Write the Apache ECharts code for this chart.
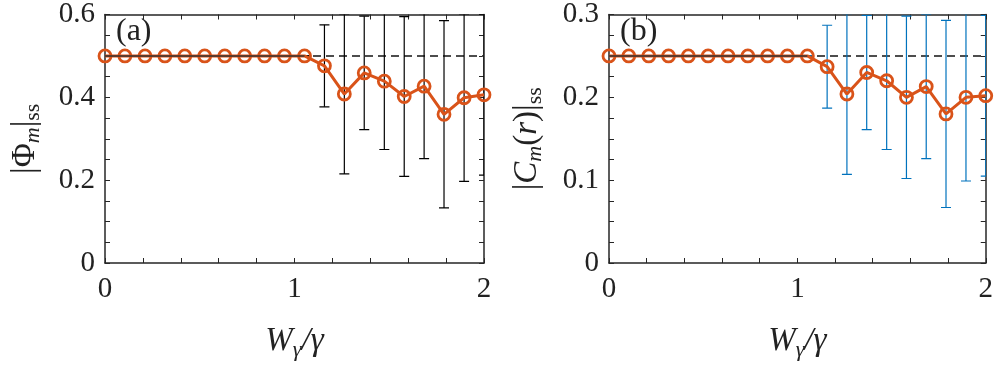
<!DOCTYPE html>
<html>
<head>
<meta charset="utf-8">
<script src="https://cdn.jsdelivr.net/npm/echarts@6/dist/echarts.min.js"></script>
<style>
  html, body { margin: 0; padding: 0; background: #fff; }
  #main { width: 996px; height: 366px; }
</style>
</head>
<body>
<div id="main"></div>
<script>
// W_gamma / gamma
var xs = [0, 0.105, 0.211, 0.316, 0.421, 0.526, 0.632, 0.737, 0.842, 0.947,
  1.053, 1.158, 1.263, 1.368, 1.474, 1.579, 1.684, 1.789, 1.895, 2];
// panel (a) |Phi_m|_ss and std
var phi = [0.5, 0.5, 0.5, 0.5, 0.5, 0.5, 0.5, 0.5, 0.5, 0.5, 0.5,
  0.476, 0.408, 0.459, 0.439, 0.402, 0.427, 0.359, 0.399, 0.406];
var phiErr = [0, 0, 0, 0, 0, 0, 0, 0, 0, 0, 0,
  0.099, 0.193, 0.137, 0.165, 0.193, 0.175, 0.226, 0.202, 0.194];
// panel (b) |C_m(r)|_ss and std
var cm = [0.25, 0.25, 0.25, 0.25, 0.25, 0.25, 0.25, 0.25, 0.25, 0.25, 0.25,
  0.237, 0.204, 0.230, 0.220, 0.200, 0.213, 0.180, 0.200, 0.202];
var cmErr = [0, 0, 0, 0, 0, 0, 0, 0, 0, 0, 0,
  0.050, 0.097, 0.069, 0.083, 0.098, 0.087, 0.113, 0.101, 0.097];
// reference levels (dashed)
var refX = [0, 2];
var phiRef = [0.5, 0.5];
var cmRef = [0.25, 0.25];
var nFlat = 11; // points sitting on the reference value

var serif = "'Liberation Serif', 'DejaVu Serif', serif";
var axisColor = '#262626';
var orange = '#D95319';

function pairs(x, y) {
  return x.map(function (v, i) { return [v, y[i]]; });
}

function errData(y, e) {
  return xs.map(function (v, i) { return [v, y[i] - e[i], y[i] + e[i]]; });
}

function errSeries(idx, y, e, color) {
  return {
    type: 'custom',
    xAxisIndex: idx * 2, yAxisIndex: idx * 2,
    clip: true,
    z: 3,
    data: errData(y, e),
    renderItem: function (params, api) {
      var lo = api.coord([api.value(0), api.value(1)]);
      var hi = api.coord([api.value(0), api.value(2)]);
      var w = 5;
      var st = { stroke: color, lineWidth: 1.2 };
      return {
        type: 'group',
        children: [
          { type: 'line', shape: { x1: lo[0], y1: lo[1], x2: hi[0], y2: hi[1] }, style: st },
          { type: 'line', shape: { x1: lo[0] - w, y1: lo[1], x2: lo[0] + w, y2: lo[1] }, style: st },
          { type: 'line', shape: { x1: hi[0] - w, y1: hi[1], x2: hi[0] + w, y2: hi[1] }, style: st }
        ]
      };
    }
  };
}

function tickFmt(step) {
  return function (v) {
    var k = v / step;
    return Math.abs(k - Math.round(k)) < 1e-6 ? String(+v.toFixed(3)) : '';
  };
}

var line = { show: true, onZero: false, lineStyle: { color: axisColor, width: 1.5 } };
var tick = { show: true, inside: true, length: 5, lineStyle: { color: axisColor, width: 1 } };

function xAxes(grid) {
  return [{
    type: 'value', gridIndex: grid, min: 0, max: 2, interval: 0.2,
    axisLine: line,
    axisTick: tick,
    splitLine: { show: false },
    axisLabel: { formatter: tickFmt(1), color: '#222', fontFamily: serif, fontSize: 29, margin: 12, showMinLabel: true, showMaxLabel: true },
    name: '{i|W}{s|γ}{i|/γ}',
    nameLocation: 'middle', nameGap: 58,
    nameTextStyle: {
      rich: {
        i: { fontFamily: serif, fontStyle: 'italic', fontSize: 33, color: '#222', lineHeight: 40 },
        s: { fontFamily: serif, fontStyle: 'italic', fontSize: 22, color: '#222', lineHeight: 40, padding: [18, 0, 0, 0] }
      }
    }
  }, {
    type: 'value', gridIndex: grid, position: 'top', min: 0, max: 2, interval: 0.2,
    axisLine: line,
    axisTick: tick,
    axisLabel: { show: false }, splitLine: { show: false }
  }];
}

function yAxes(grid, max, step, major, name, gap) {
  return [{
    type: 'value', gridIndex: grid, min: 0, max: max, interval: step,
    axisLine: line,
    axisTick: tick,
    splitLine: { show: false },
    axisLabel: { formatter: tickFmt(major), color: '#222', fontFamily: serif, fontSize: 29, margin: 10, showMinLabel: true, showMaxLabel: true },
    name: name,
    nameLocation: 'middle', nameGap: gap, nameRotate: 90,
    nameTextStyle: {
      rich: {
        u: { fontFamily: serif, fontSize: 33, color: '#222', lineHeight: 40 },
        i: { fontFamily: serif, fontStyle: 'italic', fontSize: 33, color: '#222', lineHeight: 40 },
        s: { fontFamily: serif, fontStyle: 'italic', fontSize: 22, color: '#222', lineHeight: 40, padding: [16, 0, 0, 0] },
        r: { fontFamily: serif, fontSize: 22, color: '#222', lineHeight: 40, padding: [16, 0, 0, 0] }
      }
    }
  }, {
    type: 'value', gridIndex: grid, position: 'right', min: 0, max: max, interval: step,
    axisLine: line,
    axisTick: tick,
    axisLabel: { show: false }, splitLine: { show: false }
  }];
}

function panelSeries(idx, y, e, ref, errColor) {
  var a = idx * 2;
  return [
    {
      type: 'line', xAxisIndex: a, yAxisIndex: a, data: pairs(refX, ref),
      symbol: 'none', silent: true, z: 1,
      lineStyle: { color: '#4d4d4d', width: 2, type: [8, 5] }
    },
    errSeries(idx, y, e, errColor),
    {
      type: 'line', xAxisIndex: a, yAxisIndex: a, data: pairs(xs, y),
      symbol: 'circle', symbolSize: 12, z: 4,
      lineStyle: { color: orange, width: 3 },
      itemStyle: { color: 'rgba(0,0,0,0)', borderColor: orange, borderWidth: 2.8 }
    },
    {
      type: 'line', xAxisIndex: a, yAxisIndex: a,
      data: pairs(xs.slice(0, nFlat), y.slice(0, nFlat)),
      symbol: 'none', silent: true, z: 5,
      lineStyle: { color: '#333', width: 1.5 }
    }
  ];
}

var panelTitle = { fontFamily: serif, fontSize: 32, fontWeight: 'normal', color: '#222' };

var chart = echarts.init(document.getElementById('main'));
chart.setOption({
  animation: false,
  backgroundColor: '#fff',
  title: [
    { text: '(a)', left: 116, top: 16, padding: 0, textStyle: panelTitle },
    { text: '(b)', left: 620, top: 16, padding: 0, textStyle: panelTitle }
  ],
  grid: [
    { left: 105, right: 512, top: 14, bottom: 102 },
    { left: 609, right: 9, top: 14, bottom: 102 }
  ],
  xAxis: xAxes(0).concat(xAxes(1)),
  yAxis: yAxes(0, 0.6, 0.05, 0.2, '{u||}{u|Φ}{s|m}{u||}{r|ss}', 60)
    .concat(yAxes(1, 0.3, 0.025, 0.1, '{u||}{i|C}{s|m}{u|(}{i|r}{u|)|}{r|ss}', 62)),
  series: panelSeries(0, phi, phiErr, phiRef, '#000')
    .concat(panelSeries(1, cm, cmErr, cmRef, '#0072BD'))
});
</script>
</body>
</html>
